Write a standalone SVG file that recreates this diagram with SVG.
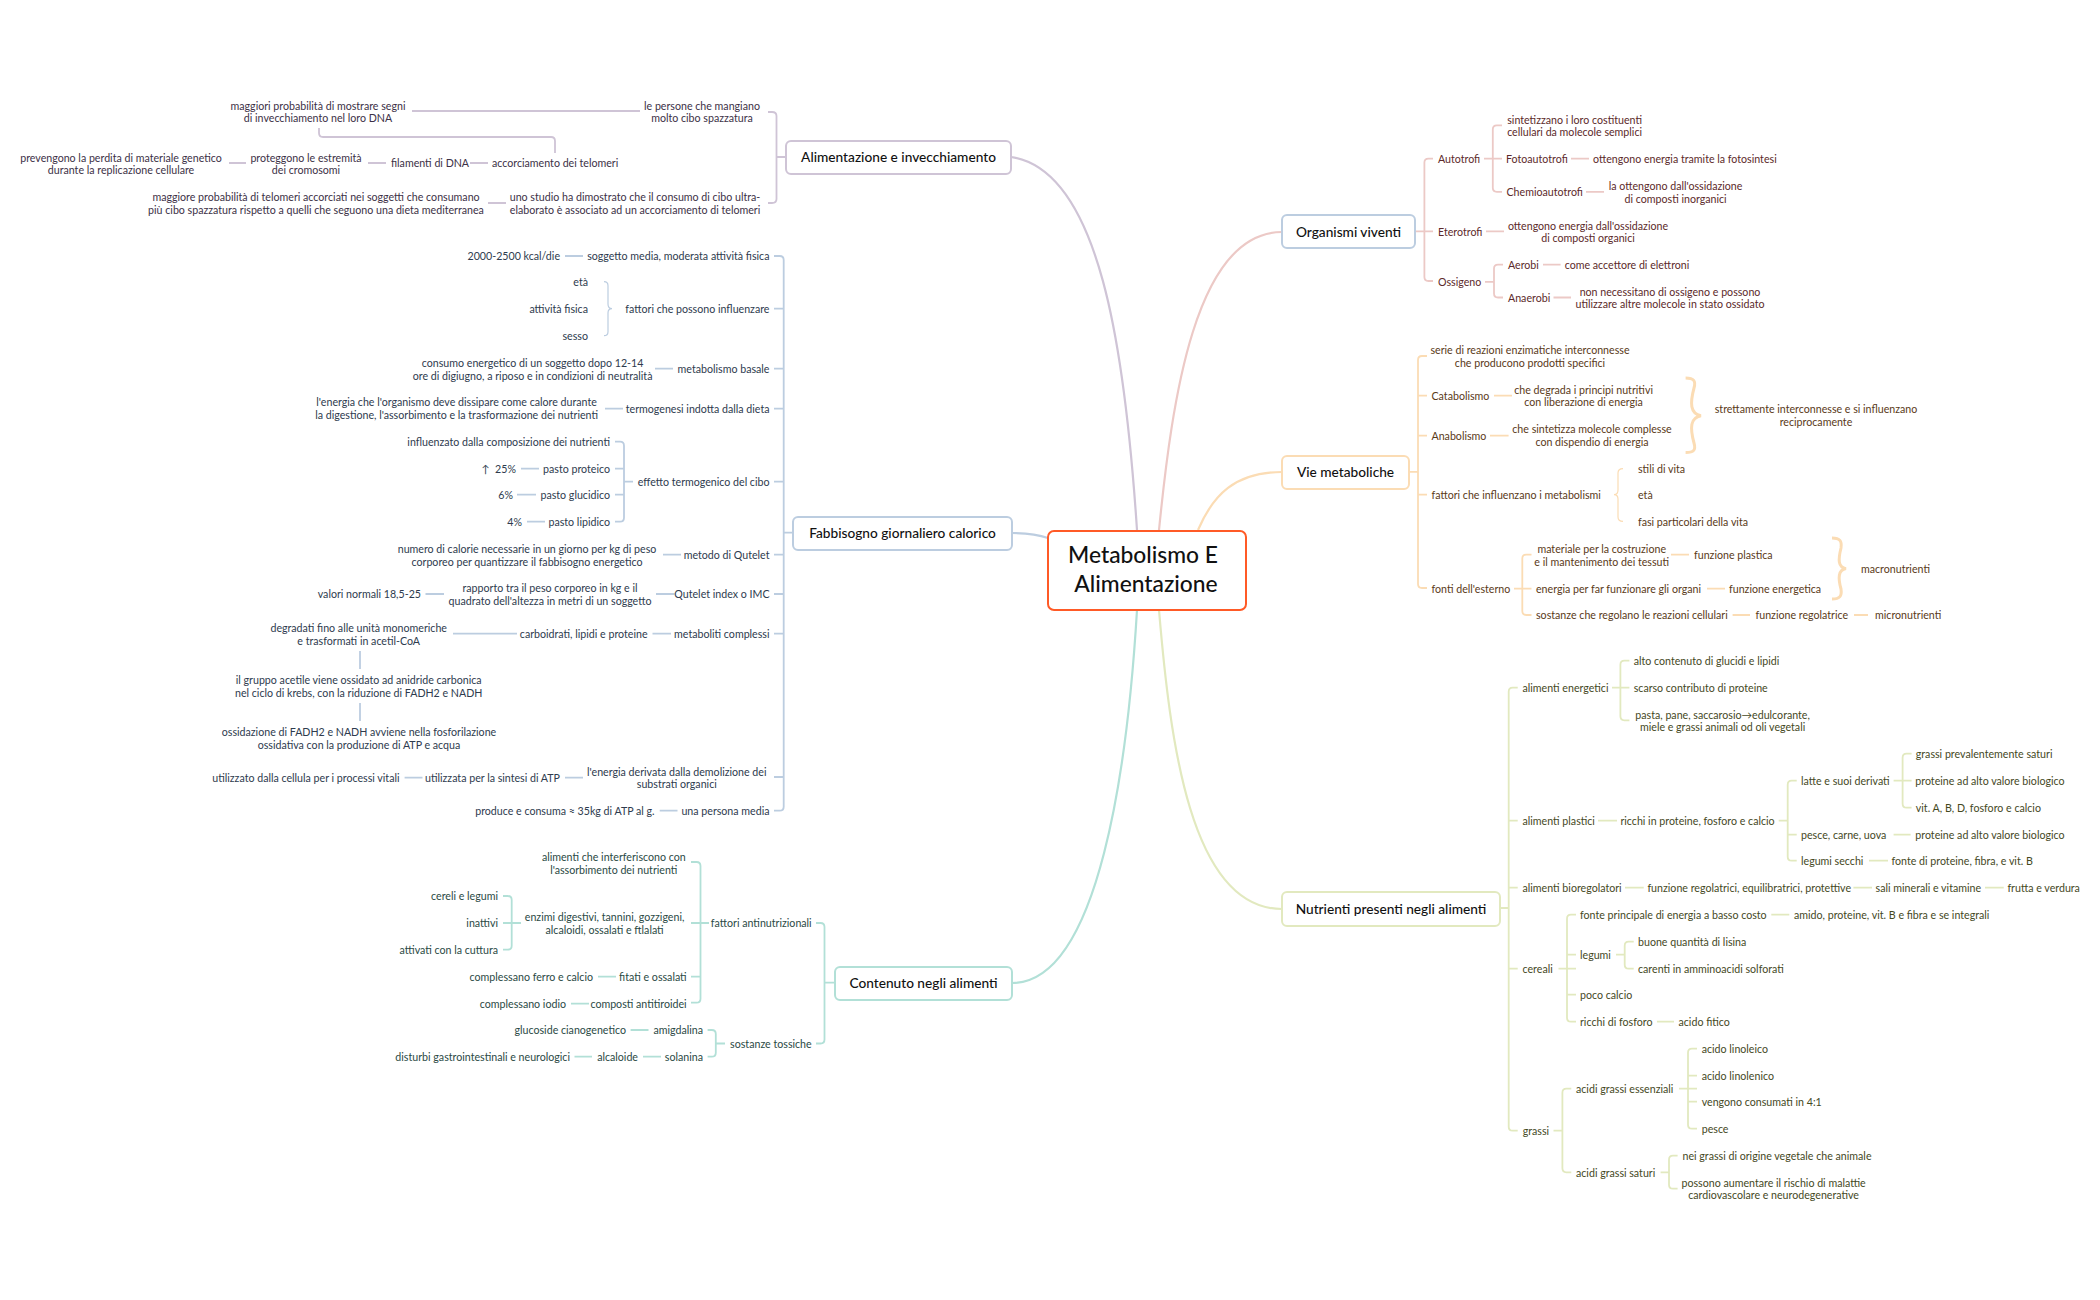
<svg xmlns="http://www.w3.org/2000/svg" width="2100" height="1300" viewBox="0 0 2100 1300">
<style>
text{font-family:"Lato","Liberation Sans",sans-serif;font-size:10.650px}
.m{text-anchor:middle}.e{text-anchor:end}
.P{fill:#3c3146}.R{fill:#5c2a2a}.O{fill:#5a3a18}.B{fill:#2e3b4e}.T{fill:#2b4a45}.G{fill:#45491e}
.box{fill:#fff;stroke-width:2}
.tp{fill:#111;font-size:13.700px;font-weight:500;text-anchor:middle}
.rt{fill:#111;font-size:22.800px;font-weight:500;text-anchor:middle}
#connectors path{fill:none;stroke-width:1.800}
.cP{stroke:#cfc4d6}.cR{stroke:#ecc9c6}.cO{stroke:#fbdcb4}.cB{stroke:#bccde0}.cT{stroke:#b2e0d7}.cG{stroke:#e2e9bf}
#connectors path.w{stroke-width:2.200}
#connectors path.th{stroke-width:3}
</style>
<g id="connectors">
<path class="cP w" d="M1011 157C1100 170 1125 350 1137 530"/>
<path class="cR w" d="M1159 530C1172 400 1195 232 1282 232"/>
<path class="cO w" d="M1198 530C1213 495 1235 472 1282 472"/>
<path class="cB w" d="M1012 533C1025 533 1037 534 1048 538"/>
<path class="cT w" d="M1137 610C1128 760 1100 983 1012 983"/>
<path class="cG w" d="M1159 610C1170 740 1190 909 1282 909"/>

<path class="cP" d="M768 112H772Q776.500 112 776.500 116V199Q776.500 203 772 203H768M776.500 157H786M640 111H412M319 128V133Q319 137 323 137H551Q555 137 555 141V153M229 163H246M368 163H386M470 163H488M488 203H506"/>

<path class="cB" d="M774 256H779.700Q783.700 256 783.700 260V806.700Q783.700 810.700 779.700 810.700H774M774 308.700H783.700M774 368.700H783.700M774 408.700H783.700M774 481.700H783.700M774 554.700H783.700M774 594H783.700M774 633.700H783.700M774 777H783.700M783.700 532.700H793M565 256H583M655 368.700H673M605 408.700H623"/>
<path class="cB" style="stroke-width:1.200" d="M604 281.700Q608 281.700 608 285.700V304Q608 308.700 612 308.700Q608 308.700 608 313V331.700Q608 335.700 604 335.700"/>
<path class="cB" d="M615 441.700H620Q624 441.700 624 445.700V517.700Q624 521.700 620 521.700H615M615 468.700H624M615 494.700H624M624 481.700H633M521 468.700H539M517 494.700H536M527 521.700H545M663 554.700H681M656 594H674.500M425.500 594H444M652.500 633.700H671M453 633.700H517M360 651V669M360 703V721M565 777.700H583M404.600 777.700H422.500M659.700 810.700H677.500"/>

<path class="cT" d="M816 923H820.500Q824.500 923 824.500 927V1039.500Q824.500 1043.500 820.500 1043.500H816M824.500 982.700H835M691 862H696.500Q700.500 862 700.500 866V998.700Q700.500 1002.700 696.500 1002.700H691M691 923H709M691 976.700H700.500M503 896H507.700Q511.700 896 511.700 900V945.700Q511.700 949.700 507.700 949.700H503M503 923H521M598 976.700H616M571 1003.700H589M707.600 1030H711.800Q715.800 1030 715.800 1034V1052.700Q715.800 1056.700 711.800 1056.700H707.600M715.800 1043.500H725M630.600 1030H648.500M643 1056.700H661M574.500 1056.700H592"/>

<path class="cR" d="M1433 158.600H1428.400Q1424.400 158.600 1424.400 162.600V277Q1424.400 281 1428.400 281H1433M1415 231.400H1433M1484 158.600H1493M1502 125.400H1496.800Q1492.800 125.400 1492.800 129.400V187.800Q1492.800 191.800 1496.800 191.800H1502M1493 158.600H1502M1571 158.600H1589M1586 191.800H1604M1486 231.400H1504M1485 281.800H1494M1503 264.600H1498Q1494 264.600 1494 268.600V293.500Q1494 297.500 1498 297.500H1503M1543 264.600H1560.600M1553.500 297.500H1571"/>

<path class="cO" d="M1427 356H1422Q1418 356 1418 360V584Q1418 588 1422 588H1427M1427 395.700H1418M1427 435.700H1418M1427 494.600H1418M1409 471.800H1418M1494 395.700H1512M1490 435.700H1508.600M1514 588.600H1522M1531.500 554.600H1526.300Q1522.300 554.600 1522.300 558.600V611Q1522.300 615 1526.300 615H1531.500M1522 588.600H1531.500M1671 554.600H1689M1707 588.600H1725M1732.600 615H1750M1854 615H1868"/>
<path class="cO" style="stroke-width:1.200" d="M1623 468.600Q1618 468.600 1618 473V490Q1618 494.600 1614 494.600Q1618 494.600 1618 499V517Q1618 521.400 1623 521.400"/>
<path class="cO th" d="M1685.600 378C1694 378 1696 381 1694 388C1690 403 1690 414 1701 415.700C1690 417.500 1690 428 1694 443C1696 450 1694 452.500 1685.600 452.500"/>
<path class="cO th" d="M1832 538C1840 538 1842 541 1841 548C1838 560 1838 567 1846 568.600C1838 570 1838 578 1841 589C1842 596 1840 599 1832 599"/>

<path class="cG" d="M1517.700 687.700H1512.700Q1508.700 687.700 1508.700 691.700V1126.700Q1508.700 1130.700 1512.700 1130.700H1517.700M1517.700 820.700H1508.700M1517.700 887.700H1508.700M1517.700 968.700H1508.700M1500 908H1508.700M1612 687.700H1629.400M1629.400 660.700H1624.400Q1620.400 660.700 1620.400 664.700V716.300Q1620.400 720.300 1624.400 720.300H1629.400M1598 820.700H1617M1778.700 820.700H1787.700M1796.700 780.700H1791.700Q1787.700 780.700 1787.700 784.700V856.700Q1787.700 860.700 1791.700 860.700H1796.700M1787.700 834.700H1796.700M1893.600 780.700H1911.600M1911.600 753.700H1906.600Q1902.600 753.700 1902.600 757.700V803.700Q1902.600 807.700 1906.600 807.700H1911.600M1893.600 834.700H1910.600M1869 860.700H1888M1625 887.700H1643.700M1853.400 887.700H1872M1985 887.700H2003.700M1558.500 968.700H1576M1576 914.700H1571Q1567 914.700 1567 918.700V1017.700Q1567 1021.700 1571 1021.700H1576M1567 954.700H1576M1567 994.700H1576M1771.300 914.700H1789.300M1616 954.700H1624.700M1633.700 941.700H1628.700Q1624.700 941.700 1624.700 945.700V964.700Q1624.700 968.700 1628.700 968.700H1633.700M1657 1021.700H1674M1553.500 1130.700H1562.400M1571.300 1088.700H1566.400Q1562.400 1088.700 1562.400 1092.700V1168.300Q1562.400 1172.300 1566.400 1172.300H1571.300M1679 1088.700H1697M1697 1048.700H1692Q1688 1048.700 1688 1052.700V1124.700Q1688 1128.700 1692 1128.700H1697M1697 1075.700H1688M1697 1101.700H1688M1660.600 1172.300H1669M1677.600 1155.700H1673Q1669 1155.700 1669 1159.700V1184.700Q1669 1188.700 1673 1188.700H1677.600"/>
</g>

<g id="root"><rect class="box" x="1048" y="531" width="198" height="79" rx="6" style="stroke:#ff5a26"/><text class="rt" x="1143" y="563">Metabolismo E</text><text class="rt" x="1146" y="592">Alimentazione</text></g>

<g id="topic-alimentazione"><rect class="box" x="786" y="141" width="225" height="33" rx="5" stroke="#cfc4d6"/><text class="tp" x="898.500" y="162">Alimentazione e invecchiamento</text></g>
<g id="topic-fabbisogno"><rect class="box" x="793" y="517" width="219" height="33" rx="5" stroke="#bccde0"/><text class="tp" x="902.500" y="538">Fabbisogno giornaliero calorico</text></g>
<g id="topic-contenuto"><rect class="box" x="835" y="967" width="177" height="33" rx="5" stroke="#b2e0d7"/><text class="tp" x="923.500" y="988">Contenuto negli alimenti</text></g>
<g id="topic-organismi"><rect class="box" x="1282" y="215" width="133" height="33" rx="5" stroke="#bccde0"/><text class="tp" x="1348.500" y="237">Organismi viventi</text></g>
<g id="topic-vie"><rect class="box" x="1282" y="456" width="127" height="33" rx="5" stroke="#fbdcb4"/><text class="tp" x="1345.500" y="477">Vie metaboliche</text></g>
<g id="topic-nutrienti"><rect class="box" x="1282" y="892" width="218" height="34" rx="5" stroke="#e2e9bf"/><text class="tp" x="1391" y="914">Nutrienti presenti negli alimenti</text></g>

<g id="branch-alimentazione" class="P">
<g id="a1"><text class="P m" x="702" y="110">le persone che mangiano</text><text class="P m" x="702" y="122">molto cibo spazzatura</text></g>
<g id="a2"><text class="P m" x="318" y="110">maggiori probabilità di mostrare segni</text><text class="P m" x="318" y="122">di invecchiamento nel loro DNA</text></g>
<g id="a3"><text class="P m" x="121" y="162">prevengono la perdita di materiale genetico</text><text class="P m" x="121" y="174">durante la replicazione cellulare</text></g>
<g id="a4"><text class="P m" x="306" y="162">proteggono le estremità</text><text class="P m" x="306" y="174">dei cromosomi</text></g>
<g id="a5"><text class="P" x="391" y="167">filamenti di DNA</text></g>
<g id="a6"><text class="P" x="492" y="167">accorciamento dei telomeri</text></g>
<g id="a7"><text class="P m" x="316" y="201">maggiore probabilità di telomeri accorciati nei soggetti che consumano</text><text class="P m" x="316" y="214">più cibo spazzatura rispetto a quelli che seguono una dieta mediterranea</text></g>
<g id="a8"><text class="P m" x="635" y="201">uno studio ha dimostrato che il consumo di cibo ultra-</text><text class="P m" x="635" y="214">elaborato è associato ad un accorciamento di telomeri</text></g>
</g>

<g id="branch-fabbisogno">
<g id="b1"><text class="B e" x="769.500" y="260">soggetto media, moderata attività fisica</text></g>
<g id="b2"><text class="B e" x="560" y="260">2000-2500 kcal/die</text></g>
<g id="b3"><text class="B e" x="769.500" y="313">fattori che possono influenzare</text></g>
<g id="b4"><text class="B e" x="588" y="286">età</text></g>
<g id="b5"><text class="B e" x="588" y="313">attività fisica</text></g>
<g id="b6"><text class="B e" x="588" y="340">sesso</text></g>
<g id="b7"><text class="B e" x="769.500" y="373">metabolismo basale</text></g>
<g id="b8"><text class="B m" x="532.600" y="367">consumo energetico di un soggetto dopo 12-14</text><text class="B m" x="532.600" y="380">ore di digiugno, a riposo e in condizioni di neutralità</text></g>
<g id="b9"><text class="B e" x="769.500" y="413">termogenesi indotta dalla dieta</text></g>
<g id="b10"><text class="B m" x="456.600" y="406">l'energia che l'organismo deve dissipare come calore durante</text><text class="B m" x="456.600" y="419">la digestione, l'assorbimento e la trasformazione dei nutrienti</text></g>
<g id="b11"><text class="B e" x="769.500" y="486">effetto termogenico del cibo</text></g>
<g id="b12"><text class="B e" x="610" y="446">influenzato dalla composizione dei nutrienti</text></g>
<g id="b13"><text class="B e" x="610" y="473">pasto proteico</text></g>
<g id="b14"><text class="B e" x="516" y="473" xml:space="preserve">↑  25%</text></g>
<g id="b15"><text class="B e" x="610" y="499">pasto glucidico</text></g>
<g id="b16"><text class="B e" x="513" y="499">6%</text></g>
<g id="b17"><text class="B e" x="610" y="526">pasto lipidico</text></g>
<g id="b18"><text class="B e" x="522" y="526">4%</text></g>
<g id="b19"><text class="B e" x="769.500" y="559">metodo di Qutelet</text></g>
<g id="b20"><text class="B m" x="527" y="553">numero di calorie necessarie in un giorno per kg di peso</text><text class="B m" x="527" y="566">corporeo per quantizzare il fabbisogno energetico</text></g>
<g id="b21"><text class="B e" x="769.500" y="598">Qutelet index o IMC</text></g>
<g id="b22"><text class="B m" x="550" y="592">rapporto tra il peso corporeo in kg e il</text><text class="B m" x="550" y="605">quadrato dell'altezza in metri di un soggetto</text></g>
<g id="b23"><text class="B e" x="421" y="598">valori normali 18,5-25</text></g>
<g id="b24"><text class="B e" x="769.500" y="638">metaboliti complessi</text></g>
<g id="b25"><text class="B e" x="647.500" y="638">carboidrati, lipidi e proteine</text></g>
<g id="b26"><text class="B m" x="358.700" y="632">degradati fino alle unità monomeriche</text><text class="B m" x="358.700" y="645">e trasformati in acetil-CoA</text></g>
<g id="b27"><text class="B m" x="358.700" y="684">il gruppo acetile viene ossidato ad anidride carbonica</text><text class="B m" x="358.700" y="697">nel ciclo di krebs, con la riduzione di FADH2 e NADH</text></g>
<g id="b28"><text class="B m" x="359" y="736">ossidazione di FADH2 e NADH avviene nella fosforilazione</text><text class="B m" x="359" y="749">ossidativa con la produzione di ATP e acqua</text></g>
<g id="b29"><text class="B m" x="676.800" y="776">l'energia derivata dalla demolizione dei</text><text class="B m" x="676.800" y="788">substrati organici</text></g>
<g id="b30"><text class="B e" x="560" y="782">utilizzata per la sintesi di ATP</text></g>
<g id="b31"><text class="B e" x="399.500" y="782">utilizzato dalla cellula per i processi vitali</text></g>
<g id="b32"><text class="B e" x="769.500" y="815">una persona media</text></g>
<g id="b33"><text class="B e" x="654.600" y="815">produce e consuma ≈ 35kg di ATP al g.</text></g>
</g>

<g id="branch-contenuto">
<g id="c1"><text class="T e" x="811.700" y="927">fattori antinutrizionali</text></g>
<g id="c2"><text class="T e" x="811.700" y="1048">sostanze tossiche</text></g>
<g id="c3"><text class="T m" x="613.800" y="861">alimenti che interferiscono con</text><text class="T m" x="613.800" y="874">l'assorbimento dei nutrienti</text></g>
<g id="c4"><text class="T m" x="604.600" y="921">enzimi digestivi, tannini, gozzigeni,</text><text class="T m" x="604.600" y="934">alcaloidi, ossalati e ftlalati</text></g>
<g id="c5"><text class="T e" x="498" y="900">cereli e legumi</text></g>
<g id="c6"><text class="T e" x="498" y="927">inattivi</text></g>
<g id="c7"><text class="T e" x="498" y="954">attivati con la cuttura</text></g>
<g id="c8"><text class="T e" x="686.700" y="981">fitati e ossalati</text></g>
<g id="c9"><text class="T e" x="593" y="981">complessano ferro e calcio</text></g>
<g id="c10"><text class="T e" x="686.700" y="1008">composti antitiroidei</text></g>
<g id="c11"><text class="T e" x="566" y="1008">complessano iodio</text></g>
<g id="c12"><text class="T e" x="703" y="1034">amigdalina</text></g>
<g id="c13"><text class="T e" x="626" y="1034">glucoside cianogenetico</text></g>
<g id="c14"><text class="T e" x="703" y="1061">solanina</text></g>
<g id="c15"><text class="T e" x="638" y="1061">alcaloide</text></g>
<g id="c16"><text class="T e" x="570" y="1061">disturbi gastrointestinali e neurologici</text></g>
</g>

<g id="branch-organismi">
<g id="d1"><text class="R" x="1438" y="163">Autotrofi</text></g>
<g id="d2"><text class="R m" x="1574.600" y="124">sintetizzano i loro costituenti</text><text class="R m" x="1574.600" y="136">cellulari da molecole semplici</text></g>
<g id="d3"><text class="R" x="1506" y="163">Fotoautotrofi</text></g>
<g id="d4"><text class="R" x="1593" y="163">ottengono energia tramite la fotosintesi</text></g>
<g id="d5"><text class="R" x="1506.500" y="196">Chemioautotrofi</text></g>
<g id="d6"><text class="R m" x="1675.600" y="190">la ottengono dall'ossidazione</text><text class="R m" x="1675.600" y="203">di composti inorganici</text></g>
<g id="d7"><text class="R" x="1438" y="236">Eterotrofi</text></g>
<g id="d8"><text class="R m" x="1588" y="230">ottengono energia dall'ossidazione</text><text class="R m" x="1588" y="242">di composti organici</text></g>
<g id="d9"><text class="R" x="1438" y="286">Ossigeno</text></g>
<g id="d10"><text class="R" x="1508" y="269">Aerobi</text></g>
<g id="d11"><text class="R" x="1564.700" y="269">come accettore di elettroni</text></g>
<g id="d12"><text class="R" x="1508" y="302">Anaerobi</text></g>
<g id="d13"><text class="R m" x="1670" y="296">non necessitano di ossigeno e possono</text><text class="R m" x="1670" y="308">utilizzare altre molecole in stato ossidato</text></g>
</g>

<g id="branch-vie">
<g id="e1"><text class="O m" x="1530" y="354">serie di reazioni enzimatiche interconnesse</text><text class="O m" x="1530" y="367">che producono prodotti specifici</text></g>
<g id="e2"><text class="O" x="1431.500" y="400">Catabolismo</text></g>
<g id="e3"><text class="O m" x="1583.600" y="394">che degrada i principi nutritivi</text><text class="O m" x="1583.600" y="406">con liberazione di energia</text></g>
<g id="e4"><text class="O" x="1431.500" y="440">Anabolismo</text></g>
<g id="e5"><text class="O m" x="1592" y="433">che sintetizza molecole complesse</text><text class="O m" x="1592" y="446">con dispendio di energia</text></g>
<g id="e6"><text class="O m" x="1816" y="413">strettamente interconnesse e si influenzano</text><text class="O m" x="1816" y="426">reciprocamente</text></g>
<g id="e7"><text class="O" x="1431.500" y="499">fattori che influenzano i metabolismi</text></g>
<g id="e8"><text class="O" x="1638" y="473">stili di vita</text></g>
<g id="e9"><text class="O" x="1638" y="499">età</text></g>
<g id="e10"><text class="O" x="1638" y="526">fasi particolari della vita</text></g>
<g id="e11"><text class="O" x="1431.500" y="593">fonti dell'esterno</text></g>
<g id="e12"><text class="O m" x="1601.700" y="553">materiale per la costruzione</text><text class="O m" x="1601.700" y="566">e il mantenimento dei tessuti</text></g>
<g id="e13"><text class="O" x="1694" y="559">funzione plastica</text></g>
<g id="e14"><text class="O" x="1536" y="593">energia per far funzionare gli organi</text></g>
<g id="e15"><text class="O" x="1729" y="593">funzione energetica</text></g>
<g id="e16"><text class="O" x="1536" y="619">sostanze che regolano le reazioni cellulari</text></g>
<g id="e17"><text class="O" x="1755.500" y="619">funzione regolatrice</text></g>
<g id="e18"><text class="O" x="1875" y="619">micronutrienti</text></g>
<g id="e19"><text class="O" x="1861" y="573">macronutrienti</text></g>
</g>

<g id="branch-nutrienti">
<g id="f1"><text class="G" x="1522.500" y="692">alimenti energetici</text></g>
<g id="f2"><text class="G" x="1633.700" y="665">alto contenuto di glucidi e lipidi</text></g>
<g id="f3"><text class="G" x="1633.700" y="692">scarso contributo di proteine</text></g>
<g id="f4"><text class="G m" x="1722.600" y="719">pasta, pane, saccarosio→edulcorante,</text><text class="G m" x="1722.600" y="731">miele e grassi animali od oli vegetali</text></g>
<g id="f5"><text class="G" x="1522.500" y="825">alimenti plastici</text></g>
<g id="f6"><text class="G" x="1620.400" y="825">ricchi in proteine, fosforo e calcio</text></g>
<g id="f7"><text class="G" x="1801" y="785">latte e suoi derivati</text></g>
<g id="f8"><text class="G" x="1915.800" y="758">grassi prevalentemente saturi</text></g>
<g id="f9"><text class="G" x="1915.300" y="785">proteine ad alto valore biologico</text></g>
<g id="f10"><text class="G" x="1915.800" y="812">vit. A, B, D, fosforo e calcio</text></g>
<g id="f11"><text class="G" x="1801" y="839">pesce, carne, uova</text></g>
<g id="f12"><text class="G" x="1915.300" y="839">proteine ad alto valore biologico</text></g>
<g id="f13"><text class="G" x="1801" y="865">legumi secchi</text></g>
<g id="f14"><text class="G" x="1891.500" y="865">fonte di proteine, fibra, e vit. B</text></g>
<g id="f15"><text class="G" x="1522.500" y="892">alimenti bioregolatori</text></g>
<g id="f16"><text class="G" x="1647.400" y="892">funzione regolatrici, equilibratrici, protettive</text></g>
<g id="f17"><text class="G" x="1875.600" y="892">sali minerali e vitamine</text></g>
<g id="f18"><text class="G" x="2007.400" y="892">frutta e verdura</text></g>
<g id="f19"><text class="G" x="1522.500" y="973">cereali</text></g>
<g id="f20"><text class="G" x="1580" y="919">fonte principale di energia a basso costo</text></g>
<g id="f21"><text class="G" x="1794" y="919">amido, proteine, vit. B e fibra e se integrali</text></g>
<g id="f22"><text class="G" x="1580" y="959">legumi</text></g>
<g id="f23"><text class="G" x="1638" y="946">buone quantità di lisina</text></g>
<g id="f24"><text class="G" x="1638" y="973">carenti in amminoacidi solforati</text></g>
<g id="f25"><text class="G" x="1580" y="999">poco calcio</text></g>
<g id="f26"><text class="G" x="1580" y="1026">ricchi di fosforo</text></g>
<g id="f27"><text class="G" x="1678.500" y="1026">acido fitico</text></g>
<g id="f28"><text class="G" x="1522.700" y="1135">grassi</text></g>
<g id="f29"><text class="G" x="1576" y="1093">acidi grassi essenziali</text></g>
<g id="f30"><text class="G" x="1701.700" y="1053">acido linoleico</text></g>
<g id="f31"><text class="G" x="1701.700" y="1080">acido linolenico</text></g>
<g id="f32"><text class="G" x="1701.700" y="1106">vengono consumati in 4:1</text></g>
<g id="f33"><text class="G" x="1701.700" y="1133">pesce</text></g>
<g id="f34"><text class="G" x="1576" y="1177">acidi grassi saturi</text></g>
<g id="f35"><text class="G" x="1682.500" y="1160">nei grassi di origine vegetale che animale</text></g>
<g id="f36"><text class="G m" x="1773.600" y="1187">possono aumentare il rischio di malattie</text><text class="G m" x="1773.600" y="1199">cardiovascolare e neurodegenerative</text></g>
</g>
</svg>
